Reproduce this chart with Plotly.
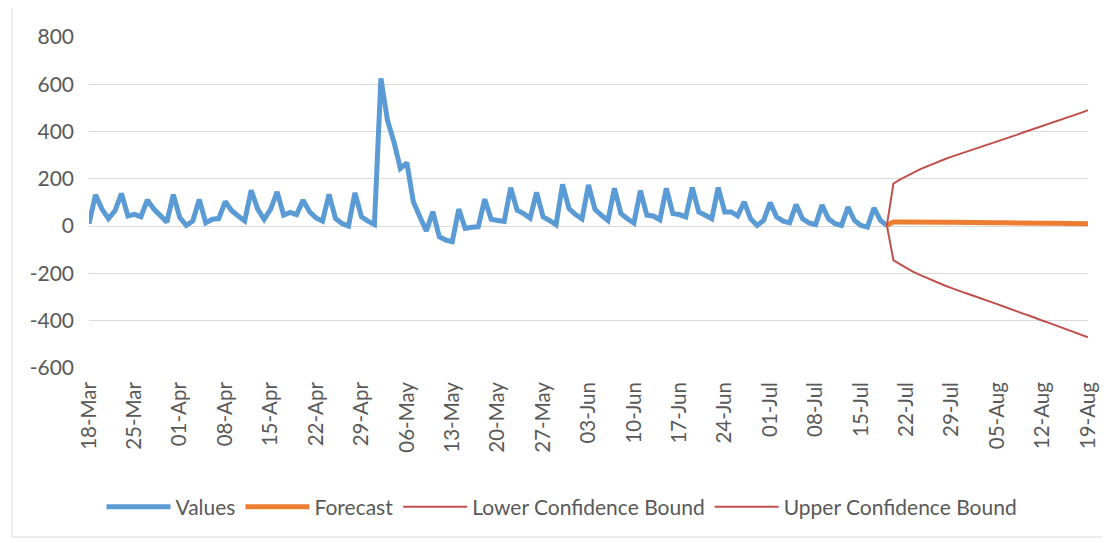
import pandas as pd
import plotly.graph_objects as go

start_date = "2019-03-18"
values = [10, 133, 72, 32, 65, 138, 43, 50, 40, 111,
          72, 43, 17, 133, 36, 3, 22, 113, 14, 29,
          32, 104, 65, 43, 22, 152, 72, 29, 72, 145,
          47, 58, 49, 110, 61, 35, 21, 134, 32, 11,
          0, 141, 40, 21, 7, 625, 449, 357, 244, 268,
          103, 40, -20, 61, -45, -59, -66, 72, -10, -5,
          -3, 114, 29, 24, 20, 163, 67, 53, 34, 143,
          39, 24, 6, 177, 74, 49, 31, 174, 71, 46,
          24, 160, 53, 31, 13, 150, 46, 43, 27, 160,
          53, 49, 39, 163, 60, 46, 31, 163, 60, 60,
          43, 103, 31, 3, 24, 100, 39, 21, 14, 91,
          31, 14, 6, 89, 31, 10, 3, 81, 24, 3,
          -4, 77, 24, 3]

forecast_start = "2019-07-19"
forecast = [3, 18, 18, 17, 17, 17, 17, 16, 16, 16, 16, 15, 15, 15, 15, 14,
            14, 14, 14, 13, 13, 13, 13, 12, 12, 12, 12, 11, 11, 11, 11, 10]
lower = [3, -144, -161, -178, -192, -205, -217, -231, -242, -252, -262, -273,
         -282, -291, -300, -311, -321, -330, -340, -351, -360, -370, -379,
         -391, -400, -409, -419, -430, -440, -449, -458, -470]
upper = [3, 180, 197, 212, 226, 239, 251, 263, 274, 284, 294, 303, 312, 321,
         330, 339, 349, 358, 368, 377, 386, 396, 405, 415, 424, 433, 443, 452,
         462, 471, 480, 490]

x_end = "2019-08-19"
y_ticks = [-600, -400, -200, 0, 200, 400, 600, 800]
y_tick_labels = ["-600", "-400", "-200", "0", "200", "400", "600", "800"]

dates_v = pd.date_range(start_date, periods=len(values), freq="D")
dates_f = pd.date_range(forecast_start, periods=len(forecast), freq="D")

BLUE = "#5B9BD5"
ORANGE = "#ED7D31"
RED = "#C0504D"
TXT = "#595959"
GRID = "#D9D9D9"
FONT = "Lato, Carlito, Calibri, sans-serif"

fig = go.Figure()
fig.add_trace(go.Scatter(x=dates_v, y=values, mode="lines", name="Values",
                         line=dict(color=BLUE, width=5)))
fig.add_trace(go.Scatter(x=dates_f, y=forecast, mode="lines", name="Forecast",
                         line=dict(color=ORANGE, width=5)))
fig.add_trace(go.Scatter(x=dates_f, y=lower, mode="lines", name="Lower Confidence Bound",
                         line=dict(color=RED, width=2)))
fig.add_trace(go.Scatter(x=dates_f, y=upper, mode="lines", name="Upper Confidence Bound",
                         line=dict(color=RED, width=2)))

# page is rendered with an 8px body margin, so figure coords = page coords - 8
L, T = 81, 29
W, H = 1110, 543
R = W - 1080
B = H - 360
pw = W - L - R
ph = H - T - B

fig.update_layout(
    width=W, height=H,
    margin=dict(l=L, r=R, t=T, b=B, autoexpand=False),
    paper_bgcolor="white", plot_bgcolor="white",
    font=dict(family=FONT, color=TXT, size=20),
    showlegend=True,
    legend=dict(orientation="h", x=(554 - L) / pw, xanchor="center",
                y=(360 - 499) / ph, yanchor="middle",
                font=dict(size=21, color=TXT), itemwidth=64,
                bgcolor="rgba(0,0,0,0)"),
    xaxis=dict(type="date", range=[start_date, x_end], tick0=start_date,
               dtick=7 * 86400000, tickformat="%d-%b", tickangle=-90,
               showgrid=False, zeroline=False, showline=False, ticks="",
               automargin=False,
               ticklabelstandoff=9, tickfont=dict(size=20.5, color=TXT)),
    yaxis=dict(range=[-600, 800], tickvals=y_ticks, ticktext=y_tick_labels,
               showgrid=True, automargin=False,
               gridcolor=GRID, gridwidth=1.3, zeroline=False, showline=False,
               ticks="", ticklabelstandoff=14, tickfont=dict(size=21, color=TXT)),
    shapes=[
        dict(type="line", xref="paper", yref="paper",
             x0=(4 - L) / pw, x1=(4 - L) / pw,
             y0=(360 - 529) / ph, y1=(360 + 0) / ph,
             line=dict(color=GRID, width=1), layer="below"),
        dict(type="line", xref="paper", yref="paper",
             x0=(4 - L) / pw, x1=(1096 - L) / pw,
             y0=(360 - 529) / ph, y1=(360 - 529) / ph,
             line=dict(color=GRID, width=1), layer="below"),
    ],
)

fig.write_html("out.html")
